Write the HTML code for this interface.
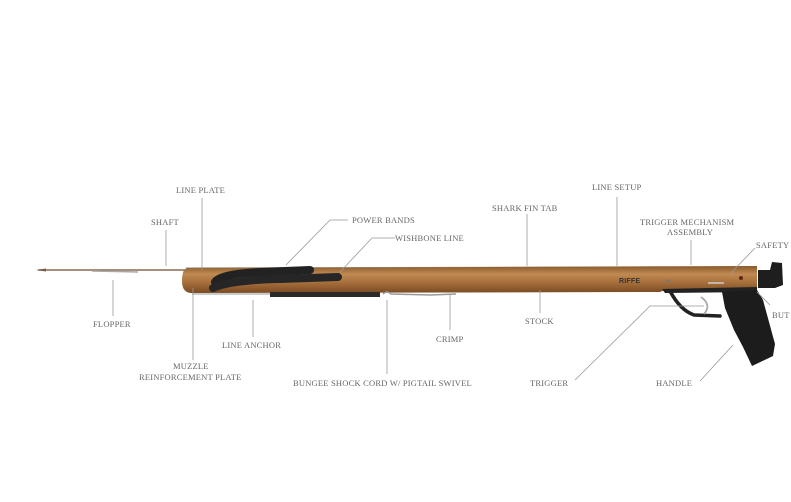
<!DOCTYPE html>
<html><head><meta charset="utf-8"><style>
html,body{margin:0;padding:0;background:#fff;}
svg{display:block;}
text{font-family:"Liberation Serif",serif;font-size:8.5px;fill:#666;letter-spacing:0.2px;}
</style></head><body>
<svg width="791" height="502" viewBox="0 0 791 502" xmlns="http://www.w3.org/2000/svg">
<defs>
<linearGradient id="wood" x1="0" y1="0" x2="0" y2="1">
<stop offset="0" stop-color="#8a5a2c"/>
<stop offset="0.3" stop-color="#c08a52"/>
<stop offset="0.6" stop-color="#a8703c"/>
<stop offset="1" stop-color="#7a4a22"/>
</linearGradient>
</defs>
<rect width="791" height="502" fill="#fff"/>
<!-- shaft -->
<line x1="38" y1="270" x2="186" y2="270" stroke="#8a6a50" stroke-width="1.6"/>
<polygon points="36,270 46,268.5 46,271.5" fill="#7a5a40"/>
<line x1="92" y1="271" x2="138" y2="272" stroke="#aaa" stroke-width="1.5"/>
<!-- rail -->
<line x1="186" y1="268" x2="660" y2="267" stroke="#999" stroke-width="1.2"/>
<!-- stock -->
<path d="M188,268 L757,266 L757,290 L665,290 L660,292 L192,293 Q182,293 182,281 Q182,268 188,268 Z" fill="url(#wood)"/>
<!-- frame under stock end -->
<path d="M662,289 L757,287 L757,292 L665,293 Z" fill="#222"/>
<!-- bottom rail -->
<line x1="192" y1="294" x2="290" y2="294" stroke="#aaa" stroke-width="1.2"/>
<!-- bands -->
<path d="M215,282 Q220,274 260,272 L310,270" stroke="#222" stroke-width="8" fill="none" stroke-linecap="round"/>
<path d="M213,288 Q230,280 280,279 L338,277" stroke="#262626" stroke-width="8" fill="none" stroke-linecap="round"/>
<!-- bungee -->
<rect x="270" y="292" width="110" height="5" fill="#2a2a2a"/>
<path d="M383,294 q4,-4 8,0 l40,1 l25,-1" stroke="#999" stroke-width="1.5" fill="none"/>
<!-- RIFFE text on stock -->
<text x="619" y="283" style="font-family:'Liberation Sans',sans-serif;font-size:7px;fill:#333;font-weight:bold">RIFFE</text>
<circle cx="668" cy="281" r="1.6" fill="#777"/>
<circle cx="741" cy="278" r="2" fill="#5a2a10"/>
<line x1="708" y1="283" x2="724" y2="283" stroke="#ccc" stroke-width="1.5"/>
<!-- butt cap -->
<path d="M758,270 L770,270 L772,262 L782,263 L783,285 L775,288 L758,288 Z" fill="#1e1e1e"/>
<!-- trigger guard -->
<path d="M670,291 Q680,310 694,315 L720,316" stroke="#222" stroke-width="3.5" fill="none" stroke-linecap="round"/>
<path d="M701,297 Q712,305 704,314" stroke="#aaa" stroke-width="1.8" fill="none"/>
<!-- grip -->
<polygon points="722,292 757,290 763,300 775,344 773,356 752,366 743,347 734,330 725,308" fill="#1c1c1c"/>
<!-- leader lines -->
<g stroke="#999" stroke-width="0.8" fill="none">
<line x1="202" y1="198" x2="202" y2="270"/>
<line x1="166" y1="230" x2="166" y2="266"/>
<polyline points="348,220 330,220 286,265"/>
<polyline points="395,238 372,238 340,272"/>
<line x1="527" y1="214" x2="527" y2="266"/>
<line x1="617" y1="197" x2="617" y2="266"/>
<line x1="691" y1="240" x2="691" y2="265"/>
<line x1="755" y1="248" x2="729" y2="275"/>
<line x1="770" y1="305" x2="757" y2="292"/>
<line x1="700" y1="381" x2="733" y2="345"/>
<polyline points="575,380 650,306 704,306"/>
<line x1="540" y1="290" x2="540" y2="313"/>
<line x1="450" y1="295" x2="450" y2="330"/>
<line x1="387" y1="300" x2="387" y2="374"/>
<line x1="253" y1="300" x2="253" y2="337"/>
<line x1="193" y1="288" x2="193" y2="360"/>
<line x1="113" y1="280" x2="113" y2="316"/>
</g>
<!-- labels -->
<text x="176" y="193">LINE PLATE</text>
<text x="151" y="225">SHAFT</text>
<text x="352" y="223">POWER BANDS</text>
<text x="395" y="241">WISHBONE LINE</text>
<text x="492" y="211">SHARK FIN TAB</text>
<text x="592" y="190">LINE SETUP</text>
<text x="640" y="225">TRIGGER MECHANISM</text>
<text x="667" y="235">ASSEMBLY</text>
<text x="756" y="248">SAFETY</text>
<text x="772" y="318">BUT</text>
<text x="656" y="386">HANDLE</text>
<text x="530" y="386">TRIGGER</text>
<text x="525" y="324">STOCK</text>
<text x="436" y="342">CRIMP</text>
<text x="293" y="386">BUNGEE SHOCK CORD W/ PIGTAIL SWIVEL</text>
<text x="222" y="348">LINE ANCHOR</text>
<text x="173" y="369">MUZZLE</text>
<text x="139" y="380">REINFORCEMENT PLATE</text>
<text x="93" y="327">FLOPPER</text>
</svg>
</body></html>
